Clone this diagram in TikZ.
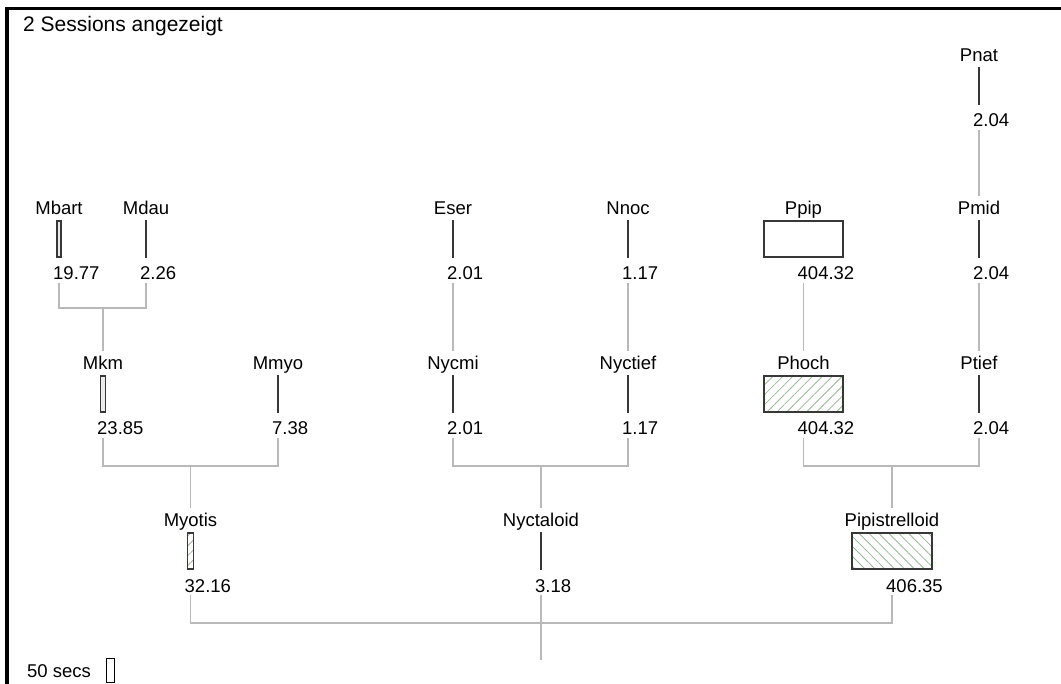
\documentclass[tikz,border=0pt]{standalone}
\usepackage{fontspec}
\setmainfont{Liberation Sans}
\usetikzlibrary{patterns.meta}
\definecolor{conncol}{RGB}{185,185,185}
\definecolor{barcol}{RGB}{55,55,55}
\definecolor{hatchcol}{RGB}{150,185,150}
\definecolor{lightbar}{RGB}{235,235,235}
\newcommand\treenode[7]{%
  \node[lab] (#1-l) at (#2,#3) {#4};
  \node[barbase,minimum width=#6,#7] (#1) at (#2,#3+24) {};
  \node[num] (#1-n) at (#2-6,#3+65) {#5};
}
\begin{document}
\begin{tikzpicture}[x=1pt,y=-1pt,
  lab/.style={anchor=base,inner xsep=0pt,inner ysep=5pt,text height=13.5pt,text depth=0pt,font=\fontsize{18.5}{20}\selectfont},
  num/.style={anchor=base west,inner xsep=0pt,inner ysep=2.5pt,text depth=0pt,font=\fontsize{18.5}{20}\selectfont},
  barbase/.style={rectangle,draw=barcol,line width=1.4pt,minimum height=36pt,inner sep=0pt},
  plain/.style={fill=white},
  light/.style={fill=lightbar},
  hatchne/.style={pattern={Lines[angle=45,distance=7pt,line width=0.8pt]},pattern color=hatchcol},
  hatchnw/.style={pattern={Lines[angle=-45,distance=7pt,line width=0.8pt]},pattern color=hatchcol},
  conn/.style={draw=conncol,line width=1.6pt},
  frame/.style={draw=black,line width=3.5pt}]
\useasboundingbox (0,0) rectangle (1061,684);
% frame
\coordinate (fTL) at (7,8.5);
\coordinate (fTR) at (1061,8.5);
\coordinate (fBL) at (7,684);
\draw[frame] (fBL) -- (fTL) -- (fTR);
\node[anchor=base west,inner sep=0pt,font=\fontsize{21}{24}\selectfont] (title) at (23,31.5) {2 Sessions angezeigt};
% nodes
\treenode{Pnat}{979}{62}{Pnat}{2.04}{0.4}{plain}
\treenode{Mbart}{59}{215}{Mbart}{19.77}{3.9}{light}
\treenode{Mdau}{146}{215}{Mdau}{2.26}{0.45}{plain}
\treenode{Eser}{453}{215}{Eser}{2.01}{0.4}{plain}
\treenode{Nnoc}{628}{215}{Nnoc}{1.17}{0.25}{plain}
\treenode{Ppip}{803.5}{215}{Ppip}{404.32}{79}{plain}
\treenode{Pmid}{979}{215}{Pmid}{2.04}{0.4}{plain}
\treenode{Mkm}{103}{370}{Mkm}{23.85}{4.7}{light}
\treenode{Mmyo}{278}{370}{Mmyo}{7.38}{1.5}{light}
\treenode{Nycmi}{453}{370}{Nycmi}{2.01}{0.4}{plain}
\treenode{Nyctief}{628}{370}{Nyctief}{1.17}{0.25}{plain}
\treenode{Phoch}{803.5}{370}{Phoch}{404.32}{79}{hatchne}
\treenode{Ptief}{979}{370}{Ptief}{2.04}{0.4}{plain}
\treenode{Myotis}{190.5}{527}{Myotis}{32.16}{6.3}{hatchne}
\treenode{Nyctaloid}{541}{527}{Nyctaloid}{3.18}{0.6}{plain}
\treenode{Pipistrelloid}{892}{527}{Pipistrelloid}{406.35}{80}{hatchnw}
% junctions
\coordinate (jMkm) at (103,308);
\coordinate (jMyotis) at (190.5,466);
\coordinate (jNyctaloid) at (541,466);
\coordinate (jPipi) at (892,466);
\coordinate (jroot) at (541,623);
\coordinate (root) at (541,660);
% connectors
\draw[conn] (Pnat.center |- Pnat-n.south) -- (Pmid-l.north);
\draw[conn] (Mbart.center |- Mbart-n.south) |- (jMkm) -| (Mdau.center |- Mdau-n.south);
\draw[conn] (jMkm) -- (Mkm-l.north);
\draw[conn] (Eser.center |- Eser-n.south) -- (Nycmi-l.north);
\draw[conn] (Nnoc.center |- Nnoc-n.south) -- (Nyctief-l.north);
\draw[conn] (Ppip.center |- Ppip-n.south) -- (Phoch-l.north);
\draw[conn] (Pmid.center |- Pmid-n.south) -- (Ptief-l.north);
\draw[conn] (Mkm.center |- Mkm-n.south) |- (jMyotis) -| (Mmyo.center |- Mmyo-n.south);
\draw[conn] (jMyotis) -- (Myotis-l.north);
\draw[conn] (Nycmi.center |- Nycmi-n.south) |- (jNyctaloid) -| (Nyctief.center |- Nyctief-n.south);
\draw[conn] (jNyctaloid) -- (Nyctaloid-l.north);
\draw[conn] (Phoch.center |- Phoch-n.south) |- (jPipi) -| (Ptief.center |- Ptief-n.south);
\draw[conn] (jPipi) -- (Pipistrelloid-l.north);
\draw[conn] (Myotis.center |- Myotis-n.south) |- (jroot) -| (Pipistrelloid.center |- Pipistrelloid-n.south);
\draw[conn] (Nyctaloid.center |- Nyctaloid-n.south) -- (root);
% scale
\node[anchor=base west,inner sep=0pt,font=\fontsize{18.5}{20}\selectfont] (scaletxt) at (27,677) {50 secs};
\node[rectangle,draw=black,line width=1.2pt,minimum width=8pt,minimum height=24pt,inner sep=0pt,anchor=north west] (scalebar) at (106,657.5) {};
\end{tikzpicture}
\end{document}
